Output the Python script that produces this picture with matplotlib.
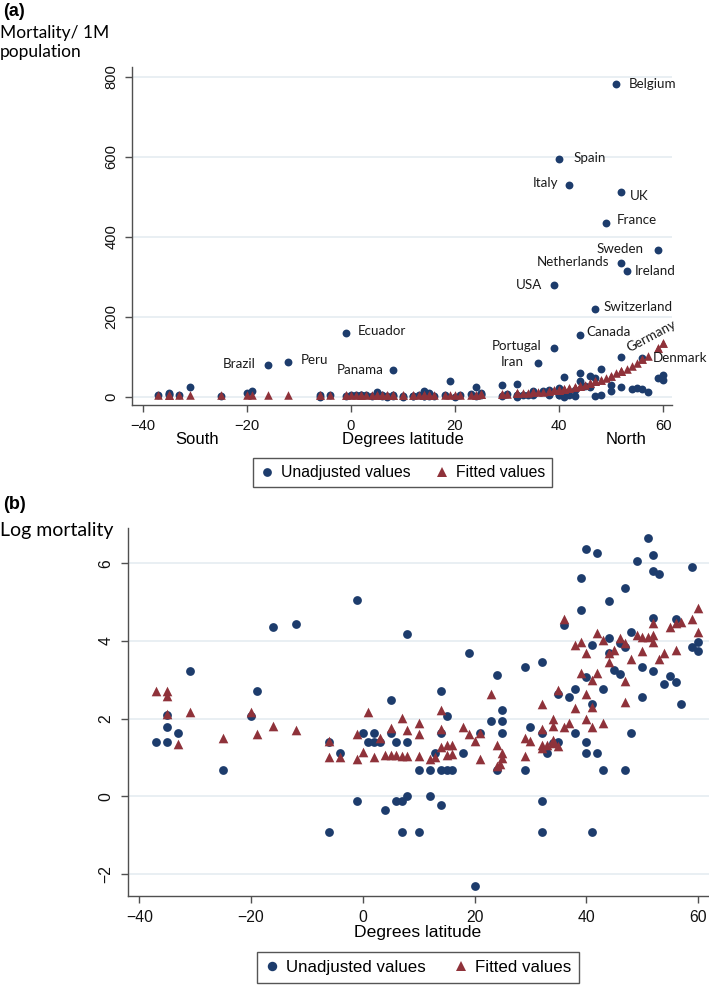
import matplotlib
matplotlib.use('Agg')
import matplotlib.pyplot as plt
from matplotlib.lines import Line2D

# ---------------- data ----------------
# Panel (a): mortality per 1M population vs degrees latitude
lat_a = [-37, -35, -35, -35, -33, -31, -25, -20, -19, -16,
         -12, -6, -6, -4, -1, -1, 0, 1, 2, 2,
         3, 4, 5, 5, 6, 6, 7, 7, 8, 8,
         8, 10, 10, 12, 12, 13, 14, 14, 14, 14,
         15, 15, 16, 18, 19, 20, 21, 23, 24, 24,
         25, 25, 25, 29, 29, 30, 32, 32, 32, 32,
         33, 34, 35, 35, 36, 37, 38, 38, 39, 39,
         40, 40, 40, 40, 41, 41, 41, 42, 42, 43,
         43, 44, 44, 44, 45, 46, 46, 47, 47, 47,
         48, 48, 49, 50, 50, 51, 52, 52, 52, 52,
         53, 54, 55, 56, 56, 57, 59, 59, 60, 60]
mort_a = [4.0, 4.0, 6.0, 8.1, 5.1, 25, 2.0, 8.0, 14.9, 80,
          86, 4.0, 0.4, 3.0, 160, 0.9, 5.1, 4.0, 5.1, 4.0,
          4.0, 0.7, 11.9, 5.1, 4.0, 0.9, 0.9, 0.4, 4.0, 1.0,
          66, 2.0, 0.4, 2.0, 1.0, 3.0, 14.9, 5.1, 2.0, 0.8,
          8.0, 2.0, 2.0, 3.0, 40, 0.1, 5.1, 7.0, 23, 2.0,
          9.1, 7.0, 5.1, 28, 2.0, 6.0, 32, 5.1, 0.9, 0.4,
          3.0, 4.0, 13.9, 4.0, 83, 13, 15.8, 5.1, 279, 121,
          593, 21.8, 4.0, 3.0, 49, 10.9, 0.4, 529, 3.0, 15.8,
          2.0, 155, 58.6, 40, 25.8, 23, 51, 47, 220, 2.0,
          69, 5.1, 433, 28, 13, 782, 512, 333, 100, 25,
          314, 18, 22.4, 96, 18.9, 10.9, 366, 47, 53, 42.5]
fit_a = [5, 5, 5, 5, 4.5, 4.5, 4, 4, 4, 3.5,
         3.5, 3, 3, 3, 3, 3, 3, 3, 3, 3,
         3, 3, 3, 3, 3, 3, 3, 3, 3, 3,
         3, 3.2, 3.2, 3.4, 3.4, 3.5, 3.6, 3.6, 3.6, 3.6,
         3.7, 3.7, 3.8, 4, 4.2, 4.4, 4.6, 5, 5.3, 5.3,
         5.6, 5.6, 5.6, 7, 7, 7.5, 8.5, 8.5, 8.5, 8.5,
         9, 10, 10.5, 10.5, 11.5, 12.5, 14, 14, 15.5, 15.5,
         17, 17, 17, 17, 19, 19, 19, 21, 21, 24,
         24, 27, 27, 27, 30, 34, 34, 38, 38, 38,
         42, 42, 47, 52, 52, 58, 64, 64, 64, 64,
         70, 77, 85, 93, 93, 102, 122, 122, 133, 133]

label_names = ['Belgium', 'Spain', 'Italy', 'UK', 'France', 'Sweden', 'Netherlands',
               'Ireland', 'USA', 'Switzerland', 'Canada', 'Portugal', 'Iran',
               'Germany', 'Denmark', 'Ecuador', 'Brazil', 'Peru', 'Panama']
label_lat = [51, 40, 42, 52, 49, 59, 52, 53, 39, 47, 44, 39, 36, 52, 56, -1, -16, -12, 8]
label_mort = [782, 593, 529, 512, 433, 366, 333, 314, 279, 220, 155, 121, 83, 100, 96,
              160, 80, 86, 66]

# Panel (b): log mortality vs degrees latitude
lat_b = lat_a[:]
logm_b = [1.39, 1.39, 1.79, 2.09, 1.62, 3.22, 0.69, 2.08, 2.70, 4.36,
          4.43, 1.39, -0.91, 1.11, 5.06, -0.11, 1.62, 1.39, 1.62, 1.39,
          1.39, -0.36, 2.48, 1.62, 1.39, -0.11, -0.11, -0.91, 1.39, 0.0,
          4.17, 0.69, -0.91, 0.69, 0.0, 1.11, 2.70, 1.62, 0.69, -0.22,
          2.08, 0.69, 0.69, 1.11, 3.70, -2.32, 1.62, 1.95, 3.13, 0.69,
          2.21, 1.95, 1.62, 3.33, 0.69, 1.79, 3.46, 1.62, -0.11, -0.91,
          1.11, 1.38, 2.63, 1.39, 4.41, 2.57, 2.76, 1.62, 5.61, 4.79,
          6.37, 3.08, 1.39, 1.11, 3.90, 2.39, -0.91, 6.26, 1.11, 2.76,
          0.69, 5.04, 4.07, 3.70, 3.25, 3.14, 3.94, 3.85, 5.36, 0.69,
          4.24, 1.62, 6.06, 3.33, 2.57, 6.65, 6.22, 5.80, 4.58, 3.22,
          5.73, 2.89, 3.11, 4.56, 2.94, 2.39, 5.90, 3.85, 3.97, 3.75]
latf_b = [-37, -35, -35, -35, -33, -31, -25, -20, -19, -16,
          -12, -6, -6, -4, -1, -1, 0, 1, 2, 3,
          4, 5, 5, 6, 7, 7, 8, 8, 10, 10,
          10, 12, 13, 14, 14, 14, 15, 15, 16, 16,
          18, 19, 20, 21, 21, 23, 24, 24, 24.5, 25,
          25, 29, 29, 30, 32, 32, 32, 32, 33, 34,
          34, 34, 34, 35, 35, 36, 36, 37, 38, 38,
          39, 39, 40, 40, 40, 41, 41, 41, 42, 42,
          43, 43, 44, 44, 45, 46, 47, 47, 47, 48,
          49, 50, 50, 51, 52, 52, 52, 53, 54, 55,
          56, 56, 57, 59, 60, 60]
logf_b = [2.70, 2.70, 2.58, 2.11, 1.34, 2.16, 1.49, 2.16, 1.60, 1.82,
          1.72, 1.42, 1.00, 1.00, 1.60, 0.97, 1.13, 2.16, 1.00, 1.51,
          1.06, 1.75, 1.06, 1.06, 2.01, 1.04, 1.71, 1.04, 1.90, 1.60,
          1.04, 0.97, 1.00, 2.21, 1.73, 1.28, 1.32, 1.06, 1.32, 1.10,
          1.79, 1.60, 1.43, 1.62, 0.97, 2.63, 1.32, 0.78, 0.83, 1.11,
          0.98, 1.49, 1.04, 1.43, 2.39, 1.73, 1.32, 1.24, 1.32, 1.99,
          1.81, 1.45, 1.36, 2.74, 1.30, 4.56, 1.79, 1.88, 3.90, 2.28,
          3.98, 3.18, 3.68, 2.63, 1.98, 3.00, 2.31, 1.79, 4.20, 3.18,
          4.03, 1.88, 3.68, 3.47, 3.77, 4.07, 3.94, 2.97, 2.44, 3.54,
          4.16, 4.11, 3.73, 4.11, 4.46, 4.16, 3.97, 3.54, 3.68, 4.37,
          4.46, 3.77, 4.50, 4.57, 4.84, 4.24]

xticks = [-40, -20, 0, 20, 40, 60]
yticks_a = [0, 200, 400, 600, 800]
yticks_b = [-2, 0, 2, 4, 6]
legend_labels = ['Unadjusted values', 'Fitted values']

# ---------------- style ----------------
W, H = 709, 986
NAVY = '#1d3c6c'
MAROON = '#8f323a'
GRID = '#e3ebf0'
AXC = '#505050'
AXFONT = 'Liberation Sans'
LBLFONT = 'Lato'

fig = plt.figure(figsize=(W / 100, H / 100), dpi=100)


def fx(px):
    return px / W


def fy(py):
    return 1 - py / H


def tick_text(vals):
    return [('\u2212' + str(-t)) if t < 0 else str(t) for t in vals]


def style_axes(ax, tick_fs, pad):
    for s in ['top', 'right']:
        ax.spines[s].set_visible(False)
    for s in ['left', 'bottom']:
        ax.spines[s].set_color(AXC)
        ax.spines[s].set_linewidth(1.0)
    ax.tick_params(axis='both', direction='out', length=5, width=1, color=AXC,
                   labelsize=tick_fs, pad=pad, labelcolor='#111111')
    ax.tick_params(axis='y', labelrotation=90)
    for lab in ax.get_yticklabels():
        lab.set_va('center')
        lab.set_family(AXFONT)
    for lab in ax.get_xticklabels():
        lab.set_family(AXFONT)
    ax.yaxis.grid(True, color=GRID, linewidth=1.1)
    ax.xaxis.grid(False)
    ax.set_axisbelow(True)
    ax.set_facecolor('white')


# ---------------- panel (a) ----------------
ax1 = fig.add_axes([fx(132.3), fy(405), fx(671.7 - 132.3), (405 - 67) / H])
ax1.scatter(lat_a, mort_a, s=32, marker='o', color=NAVY, linewidths=0, zorder=3)
ax1.scatter(lat_a, fit_a, s=38, marker='^', color=MAROON, linewidths=0, zorder=4)
ax1.set_xlim(-42.0, 61.65)
ax1.set_ylim(-20.75, 824)
ax1.set_xticks(xticks)
ax1.set_yticks(yticks_a)
ax1.set_xticklabels(tick_text(xticks))
style_axes(ax1, 10.6, 5.0)

offsets = {
    'Belgium': (12, 0, 'left', 0), 'Spain': (14, 1, 'left', 0),
    'Italy': (-11, 2, 'right', 0), 'UK': (8, -4, 'left', 0),
    'France': (11, 3, 'left', 0), 'Sweden': (-14, 1, 'right', 0),
    'Netherlands': (-12, 1, 'right', 0), 'Ireland': (8, 0, 'left', 0),
    'USA': (-12, 0, 'right', 0), 'Switzerland': (8, 2, 'left', 0),
    'Canada': (7, 3, 'left', 0), 'Portugal': (-12, 2, 'right', 0),
    'Iran': (-14, 1, 'right', 0), 'Germany': (6, 8, 'left', 28),
    'Denmark': (10, 0, 'left', 0), 'Ecuador': (12.5, 2, 'left', 0),
    'Brazil': (-11.5, 1, 'right', 0), 'Peru': (12.5, 2, 'left', 0),
    'Panama': (-8.5, 0, 'right', 0),
}
for name, la, mo in zip(label_names, label_lat, label_mort):
    dx, dy, ha, rot = offsets[name]
    ax1.annotate(name, (la, mo), xytext=(dx, dy), textcoords='offset pixels',
                 ha=ha, va='center', rotation=rot, rotation_mode='anchor',
                 fontsize=9.6, family=LBLFONT, color='#1a1a1a', zorder=5)

fig.text(fx(3), fy(3), '(a)', fontsize=13, fontweight='bold', family=AXFONT,
         ha='left', va='top')
fig.text(0.0, fy(25), 'Mortality/ 1M\npopulation', fontsize=12.5, family=LBLFONT,
         ha='left', va='top', linespacing=1.2)
fig.text(fx(196.7), fy(440), 'South', fontsize=12, family=AXFONT, ha='center', va='center')
fig.text(fx(402.5), fy(440), 'Degrees latitude', fontsize=12, family=AXFONT,
         ha='center', va='center')
fig.text(fx(626), fy(440), 'North', fontsize=12, family=AXFONT, ha='center', va='center')

h_dot = Line2D([], [], marker='o', linestyle='none', color=NAVY, markersize=6.3,
               markeredgewidth=0)
h_tri = Line2D([], [], marker='^', linestyle='none', color=MAROON, markersize=6.5,
               markeredgewidth=0)
leg1 = ax1.legend([h_dot, h_tri], legend_labels, loc='center',
                  bbox_to_anchor=(fx(402.5), fy(472.5)), bbox_transform=fig.transFigure,
                  ncol=2, frameon=True, fancybox=False, edgecolor='#555555',
                  framealpha=1, prop={'family': AXFONT, 'size': 11.3},
                  handlelength=0.9, handletextpad=0.4, columnspacing=1.6,
                  borderpad=0.45, borderaxespad=0)
leg1.get_frame().set_linewidth(1.0)

# ---------------- panel (b) ----------------
ax2 = fig.add_axes([fx(128.3), fy(895.7), 1 - fx(128.3), (895.7 - 528) / H])
ax2.scatter(lat_b, logm_b, s=40, marker='o', color=NAVY, linewidths=0, zorder=3)
ax2.scatter(latf_b, logf_b, s=48, marker='^', color=MAROON, linewidths=0, zorder=4)
ax2.set_xlim(-41.97, 61.97)
ax2.set_ylim(-2.56, 6.91)
ax2.set_xticks(xticks)
ax2.set_yticks(yticks_b)
ax2.set_xticklabels(tick_text(xticks))
ax2.set_yticklabels(tick_text(yticks_b))
style_axes(ax2, 11.3, 5.5)

fig.text(fx(3), fy(496), '(b)', fontsize=13, fontweight='bold', family=AXFONT,
         ha='left', va='top')
fig.text(0.0, fy(522), 'Log mortality', fontsize=14, family=LBLFONT, ha='left', va='top')
fig.text(fx(418), fy(933), 'Degrees latitude', fontsize=12.6, family=AXFONT,
         ha='center', va='center')

h_dot2 = Line2D([], [], marker='o', linestyle='none', color=NAVY, markersize=6.8,
                markeredgewidth=0)
h_tri2 = Line2D([], [], marker='^', linestyle='none', color=MAROON, markersize=7,
                markeredgewidth=0)
leg2 = ax2.legend([h_dot2, h_tri2], legend_labels, loc='center',
                  bbox_to_anchor=(fx(418), fy(967.5)), bbox_transform=fig.transFigure,
                  ncol=2, frameon=True, fancybox=False, edgecolor='#555555',
                  framealpha=1, prop={'family': AXFONT, 'size': 12.2},
                  handlelength=0.9, handletextpad=0.4, columnspacing=1.6,
                  borderpad=0.45, borderaxespad=0)
leg2.get_frame().set_linewidth(1.0)

fig.savefig('out.png', dpi=100, facecolor='white')
